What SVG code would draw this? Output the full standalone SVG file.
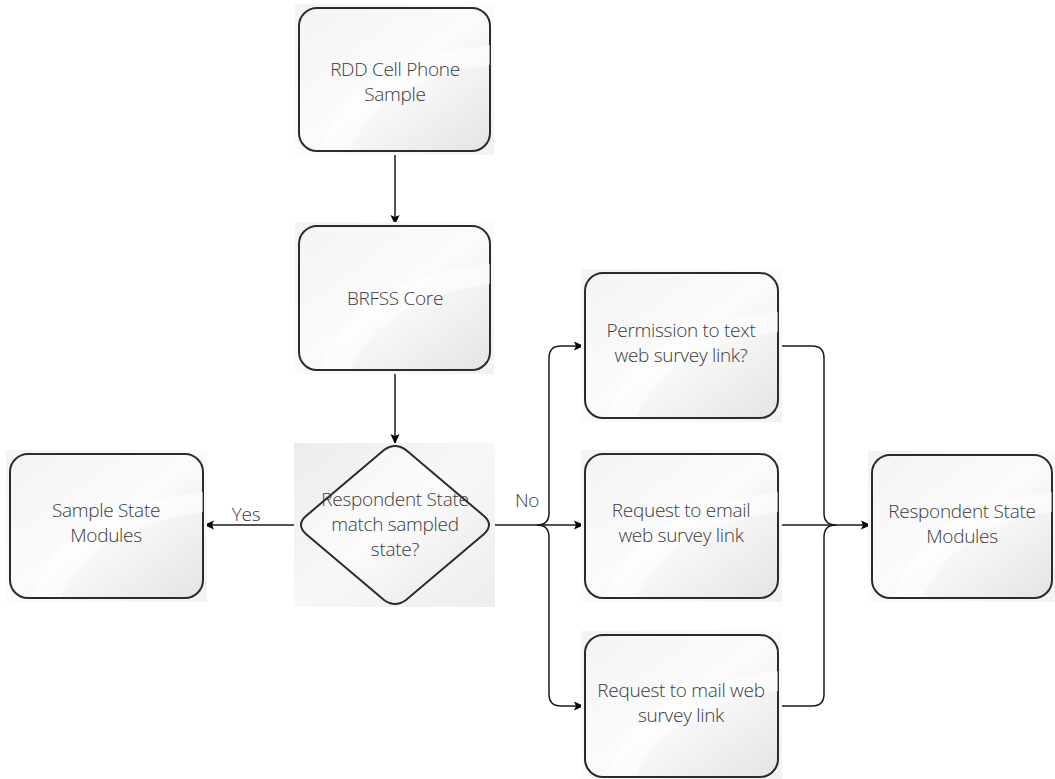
<svg xmlns="http://www.w3.org/2000/svg" width="1055" height="779" viewBox="0 0 1055 779">
<style>
.bg{fill:url(#bgg)}
.bgd{fill:url(#bgd)}
.box{fill:url(#fillg);stroke:#2b2b2b;stroke-width:2}
.gloss{fill:#ffffff;opacity:0.55}
.t{font-family:"Open Sans","DejaVu Sans",sans-serif;font-weight:300;font-size:19px;fill:#3a3a3a;text-anchor:middle;letter-spacing:-0.3px}
.lbl{font-family:"Open Sans","DejaVu Sans",sans-serif;font-weight:300;font-size:19px;fill:#3a3a3a;text-anchor:middle;letter-spacing:-0.3px}
.c{fill:none;stroke:#1a1a1a;stroke-width:1.5}
</style>
<defs>
<linearGradient id="fillg" x1="0" y1="0" x2="1" y2="1">
<stop offset="0" stop-color="#f4f4f4"/>
<stop offset="0.5" stop-color="#fbfbfb"/>
<stop offset="1" stop-color="#e4e4e4"/>
</linearGradient>
<linearGradient id="bgg" x1="0" y1="0" x2="1" y2="1">
<stop offset="0" stop-color="#f3f3f3"/>
<stop offset="0.5" stop-color="#fbfbfb"/>
<stop offset="1" stop-color="#f2f2f2"/>
</linearGradient>
<linearGradient id="bgd" x1="0" y1="0" x2="1" y2="1">
<stop offset="0" stop-color="#ececec"/>
<stop offset="0.5" stop-color="#f8f8f8"/>
<stop offset="1" stop-color="#ededed"/>
</linearGradient>
<marker id="ah" viewBox="0 0 10 10" refX="10" refY="5" markerWidth="10" markerHeight="10" markerUnits="userSpaceOnUse" orient="auto">
<path d="M0,0.5 L10,5 L0,9.5 L2,5 z" fill="#000"/>
</marker>
</defs>

<g id="connectors">
<path class="c" d="M395 151 V225" marker-end="url(#ah)"/>
<path class="c" d="M395 370 V444" marker-end="url(#ah)"/>
<path class="c" d="M297 525 H204" marker-end="url(#ah)"/>
<path class="c" d="M492 525 H584" marker-end="url(#ah)"/>
<path class="c" d="M537 525 Q549 525 549 513 V358 Q549 346 561 346 H584" marker-end="url(#ah)"/>
<path class="c" d="M537 525 Q549 525 549 537 V694 Q549 706 561 706 H584" marker-end="url(#ah)"/>
<path class="c" d="M778 346 H812 Q824 346 824 358 V513 Q824 525 836 525"/>
<path class="c" d="M778 706 H812 Q824 706 824 694 V537 Q824 525 836 525"/>
<path class="c" d="M778 525 H871" marker-end="url(#ah)"/>
<text class="lbl" x="246" y="521">Yes</text>
<text class="lbl" x="527" y="507">No</text>
</g>

<g id="n1">
<rect class="bg" x="295" y="4" width="199" height="151"/>
<rect class="box" x="299" y="8" width="191" height="143" rx="18"/>
<path class="gloss" d="M320 150 Q350 60 490 45 L490 65 Q380 80 350 150 Z"/>
<text class="t" x="395" y="76">RDD Cell Phone</text>
<text class="t" x="395" y="101">Sample</text>
</g>

<g id="n2">
<rect class="bg" x="295" y="222" width="199" height="152"/>
<rect class="box" x="299" y="226" width="191" height="144" rx="18"/>
<path class="gloss" d="M320 369 Q350 279 490 264 L490 284 Q380 299 350 369 Z"/>
<text class="t" x="395" y="305">BRFSS Core</text>
</g>

<g id="n3">
<rect class="bgd" x="294" y="443" width="201" height="164"/>
<path class="box" d="M384 450 Q395 442 406 450 L484 516 Q494 525 484 534 L406 600 Q395 608 384 600 L306 534 Q296 525 306 516 Z"/>
<text class="t" x="395" y="506">Respondent State</text>
<text class="t" x="395" y="531">match sampled</text>
<text class="t" x="395" y="556">state?</text>
</g>

<g id="n4">
<rect class="bg" x="6" y="450" width="201" height="152"/>
<rect class="box" x="10" y="454" width="193" height="144" rx="18"/>
<path class="gloss" d="M31 597 Q61 507 203 492 L203 512 Q91 527 61 597 Z"/>
<text class="t" x="106" y="517">Sample State</text>
<text class="t" x="106" y="542">Modules</text>
</g>

<g id="n5">
<rect class="bg" x="581" y="269" width="201" height="153"/>
<rect class="box" x="585" y="273" width="193" height="145" rx="18"/>
<path class="gloss" d="M606 417 Q636 327 778 312 L778 332 Q666 347 636 417 Z"/>
<text class="t" x="681" y="337">Permission to text</text>
<text class="t" x="681" y="362">web survey link?</text>
</g>

<g id="n6">
<rect class="bg" x="581" y="450" width="201" height="152"/>
<rect class="box" x="585" y="454" width="193" height="144" rx="18"/>
<path class="gloss" d="M606 597 Q636 507 778 492 L778 512 Q666 527 636 597 Z"/>
<text class="t" x="681" y="517">Request to email</text>
<text class="t" x="681" y="542">web survey link</text>
</g>

<g id="n7">
<rect class="bg" x="581" y="631" width="201" height="148"/>
<rect class="box" x="585" y="635" width="193" height="142" rx="18"/>
<path class="gloss" d="M606 776 Q636 686 778 671 L778 691 Q666 706 636 776 Z"/>
<text class="t" x="681" y="697">Request to mail web</text>
<text class="t" x="681" y="722">survey link</text>
</g>

<g id="n8">
<rect class="bg" x="868" y="451" width="187" height="151"/>
<rect class="box" x="872" y="455" width="180" height="143" rx="18"/>
<path class="gloss" d="M893 597 Q923 507 1052 492 L1052 512 Q953 527 923 597 Z"/>
<text class="t" x="962" y="518">Respondent State</text>
<text class="t" x="962" y="543">Modules</text>
</g>
</svg>
